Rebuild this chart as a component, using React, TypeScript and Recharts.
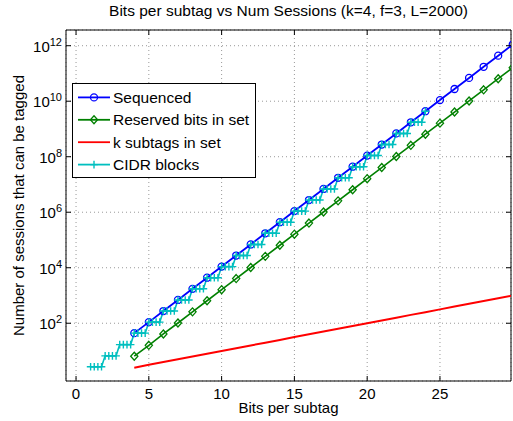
import React from "react";
import {
  LineChart,
  Line,
  XAxis,
  YAxis,
  CartesianGrid,
  Legend,
  ReferenceArea,
} from "recharts";

const FONT = '"Liberation Sans", Arial, Helvetica, sans-serif';

// plot box (fixed by the chart margins / axis sizes below)
const PLOT_L = 66;
const PLOT_R = 511;
const PLOT_T = 30;
const PLOT_B = 381;

const X_MIN = -0.69;
const X_MAX = 29.88;
const Y_MIN = 0.83;
const Y_MAX = 3.68e12;

const xTicks = [0, 5, 10, 15, 20, 25];
const yTicks = [1e2, 1e4, 1e6, 1e8, 1e10, 1e12];

// bits per subtag for the full series
const bits = [4, 5, 6, 7, 8, 9, 10, 11, 12, 13, 14, 15, 16, 17, 18, 19, 20, 21, 22, 23, 24, 25, 26, 27, 28, 29, 30];

const sequenced = [
  4.4e1, 1.1e2, 2.75e2, 6.9e2, 1.74e3, 4.37e3, 1.1e4, 2.75e4, 6.9e4, 1.74e5, 4.37e5, 1.1e6, 2.75e6, 6.9e6,
  1.74e7, 4.37e7, 1.1e8, 2.75e8, 6.9e8, 1.74e9, 4.37e9, 1.1e10, 2.75e10, 6.9e10, 1.74e11, 4.37e11, 1.1e12,
];

const reserved = [
  6.5, 1.6e1, 4.1e1, 1.02e2, 2.57e2, 6.46e2, 1.62e3, 4.07e3, 1.02e4, 2.57e4, 6.46e4, 1.62e5, 4.07e5, 1.02e6,
  2.57e6, 6.46e6, 1.62e7, 4.07e7, 1.02e8, 2.57e8, 6.46e8, 1.62e9, 4.07e9, 1.02e10, 2.57e10, 6.46e10, 1.62e11,
];

const kSubtags = [
  2.5, 3.2, 4, 5, 6.3, 7.9, 10, 12.6, 15.8, 20, 25, 32, 40, 50, 63, 79, 100, 126, 158, 200, 251, 316, 398, 501,
  631, 794, 1000,
];

// CIDR blocks: one level per whole bit, held flat over the quarter-bit steps
const cidrBits = [1, 2, 3, 4, 5, 6, 7, 8, 9, 10, 11, 12, 13, 14, 15, 16, 17, 18, 19, 20, 21, 22, 23, 24];
const cidrLevels = [
  2.7, 6.7, 1.7e1, 4.4e1, 1.1e2, 2.75e2, 6.9e2, 1.74e3, 4.37e3, 1.1e4, 2.75e4, 6.9e4, 1.74e5, 4.37e5, 1.1e6,
  2.75e6, 6.9e6, 1.74e7, 4.37e7, 1.1e8, 2.75e8, 6.9e8, 1.74e9, 4.37e9,
];
const quarterSteps = [0, 0.25, 0.5, 0.75];

const BLUE = "#0000ff";
const GREEN = "#008000";
const RED = "#ff0000";
const CYAN = "#00bfbf";

const toPoints = (xs: number[], ys: number[]) => xs.map((x, i) => ({ x, y: ys[i] }));

const seqData = toPoints(bits, sequenced);
const resData = toPoints(bits, reserved);
const kData = toPoints(bits, kSubtags);
const cidrData = cidrBits.flatMap((b, i) =>
  i === cidrBits.length - 1
    ? [{ x: b, y: cidrLevels[i] }]
    : quarterSteps.map((q) => ({ x: b + q, y: cidrLevels[i] }))
);

const circleDot = (p: any) => (
  <circle key={`c${p.index}`} cx={p.cx} cy={p.cy} r={3.5} fill="none" stroke={BLUE} strokeWidth={1.3} />
);

const diamondDot = (p: any) => (
  <path
    key={`d${p.index}`}
    d={`M${p.cx},${p.cy - 4} L${p.cx + 3.6},${p.cy} L${p.cx},${p.cy + 4} L${p.cx - 3.6},${p.cy} Z`}
    fill="none"
    stroke={GREEN}
    strokeWidth={1.3}
  />
);

const plusDot = (p: any) => (
  <path
    key={`p${p.index}`}
    d={`M${p.cx - 3.8},${p.cy} H${p.cx + 3.8} M${p.cx},${p.cy - 3.8} V${p.cy + 3.8}`}
    stroke={CYAN}
    strokeWidth={1.4}
  />
);

function XTick(props: any) {
  const { x, payload } = props;
  return (
    <g>
      <line x1={x} x2={x} y1={PLOT_B} y2={PLOT_B - 5} stroke="#000" />
      <line x1={x} x2={x} y1={PLOT_T} y2={PLOT_T + 5} stroke="#000" />
      <text x={x} y={PLOT_B + 18} textAnchor="middle" fontSize={15} fontFamily={FONT} fill="#000">
        {payload.value}
      </text>
    </g>
  );
}

function YTick(props: any) {
  const { y, payload } = props;
  const exp = Math.round(Math.log10(payload.value));
  return (
    <g>
      <line x1={PLOT_L} x2={PLOT_L + 5} y1={y} y2={y} stroke="#000" />
      <line x1={PLOT_R - 5} x2={PLOT_R} y1={y} y2={y} stroke="#000" />
      <text x={PLOT_L - 4} y={y + 6} textAnchor="end" fontSize={15} fontFamily={FONT} fill="#000">
        10
        <tspan dy={-6} fontSize={11}>
          {exp}
        </tspan>
      </text>
    </g>
  );
}

const yLabel = (props: any) => {
  const vb = props.viewBox ?? { y: PLOT_T, height: PLOT_B - PLOT_T };
  const cx = 24;
  const cy = vb.y + vb.height / 2;
  return (
    <text
      x={cx}
      y={cy}
      transform={`rotate(-90 ${cx} ${cy})`}
      textAnchor="middle"
      fontSize={15}
      fontFamily={FONT}
      fill="#000"
    >
      Number of sessions that can be tagged
    </text>
  );
};

const legendRows = [
  { name: "Sequenced", color: BLUE, marker: "circle" },
  { name: "Reserved bits in set", color: GREEN, marker: "diamond" },
  { name: "k subtags in set", color: RED, marker: "none" },
  { name: "CIDR blocks", color: CYAN, marker: "plus" },
];

function LegendBox() {
  return (
    <svg width={184} height={95} style={{ display: "block" }}>
      <rect x={0.5} y={0.5} width={183} height={94} fill="#fff" stroke="#000" />
      {legendRows.map((r, i) => {
        const cy = 14.4 + i * 22.4;
        return (
          <g key={r.name}>
            <line x1={6} x2={38} y1={cy} y2={cy} stroke={r.color} strokeWidth={1.8} />
            {r.marker === "circle" && <circle cx={22} cy={cy} r={3.5} fill="none" stroke={r.color} strokeWidth={1.3} />}
            {r.marker === "diamond" && (
              <path d={`M22,${cy - 4} L25.6,${cy} L22,${cy + 4} L18.4,${cy} Z`} fill="none" stroke={r.color} strokeWidth={1.3} />
            )}
            {r.marker === "plus" && (
              <path d={`M18.2,${cy} H25.8 M22,${cy - 3.8} V${cy + 3.8}`} stroke={r.color} strokeWidth={1.4} />
            )}
            <text x={41} y={cy + 5.6} fontSize={15.5} fontFamily={FONT} fill="#000">
              {r.name}
            </text>
          </g>
        );
      })}
    </svg>
  );
}

export default function App() {
  return (
    <div style={{ position: "absolute", left: 0, top: 0, width: 513, height: 421, background: "#fff", fontFamily: FONT }}>
      <div
        style={{
          position: "absolute",
          left: PLOT_L,
          width: PLOT_R - PLOT_L,
          top: 2,
          lineHeight: "18px",
          fontSize: 15.5,
          textAlign: "center",
          color: "#000",
        }}
      >
        Bits per subtag vs Num Sessions (k=4, f=3, L=2000)
      </div>
      <LineChart width={513} height={421} margin={{ top: 30, right: 2, bottom: 0, left: 0 }}>
        <CartesianGrid stroke="#999" strokeDasharray="1 3" horizontal vertical />
        <XAxis
          type="number"
          dataKey="x"
          domain={[X_MIN, X_MAX]}
          ticks={xTicks}
          allowDataOverflow
          axisLine={false}
          tickLine={false}
          tick={<XTick />}
          height={40}
          label={{ value: "Bits per subtag", position: "insideBottom", offset: 8, fontSize: 15, fill: "#000", fontFamily: FONT }}
        />
        <YAxis
          type="number"
          scale="log"
          dataKey="y"
          domain={[Y_MIN, Y_MAX]}
          ticks={yTicks}
          allowDataOverflow
          axisLine={false}
          tickLine={false}
          tick={<YTick />}
          width={66}
          label={yLabel}
        />
        <ReferenceArea x1={X_MIN} x2={X_MAX} y1={Y_MIN} y2={Y_MAX} fill="none" stroke="#000" strokeWidth={1} />
        <Line data={seqData} dataKey="y" name="Sequenced" stroke={BLUE} strokeWidth={1.8} dot={circleDot} activeDot={false} isAnimationActive={false} />
        <Line data={resData} dataKey="y" name="Reserved bits in set" stroke={GREEN} strokeWidth={1.6} dot={diamondDot} activeDot={false} isAnimationActive={false} />
        <Line data={kData} dataKey="y" name="k subtags in set" stroke={RED} strokeWidth={2} dot={false} activeDot={false} isAnimationActive={false} />
        <Line data={cidrData} dataKey="y" name="CIDR blocks" stroke={CYAN} strokeWidth={1.6} dot={plusDot} activeDot={false} isAnimationActive={false} />
        <Legend
          layout="vertical"
          align="center"
          verticalAlign="middle"
          wrapperStyle={{ left: 72, top: 83, width: 184, height: 95 }}
          content={() => <LegendBox />}
        />
      </LineChart>
    </div>
  );
}
